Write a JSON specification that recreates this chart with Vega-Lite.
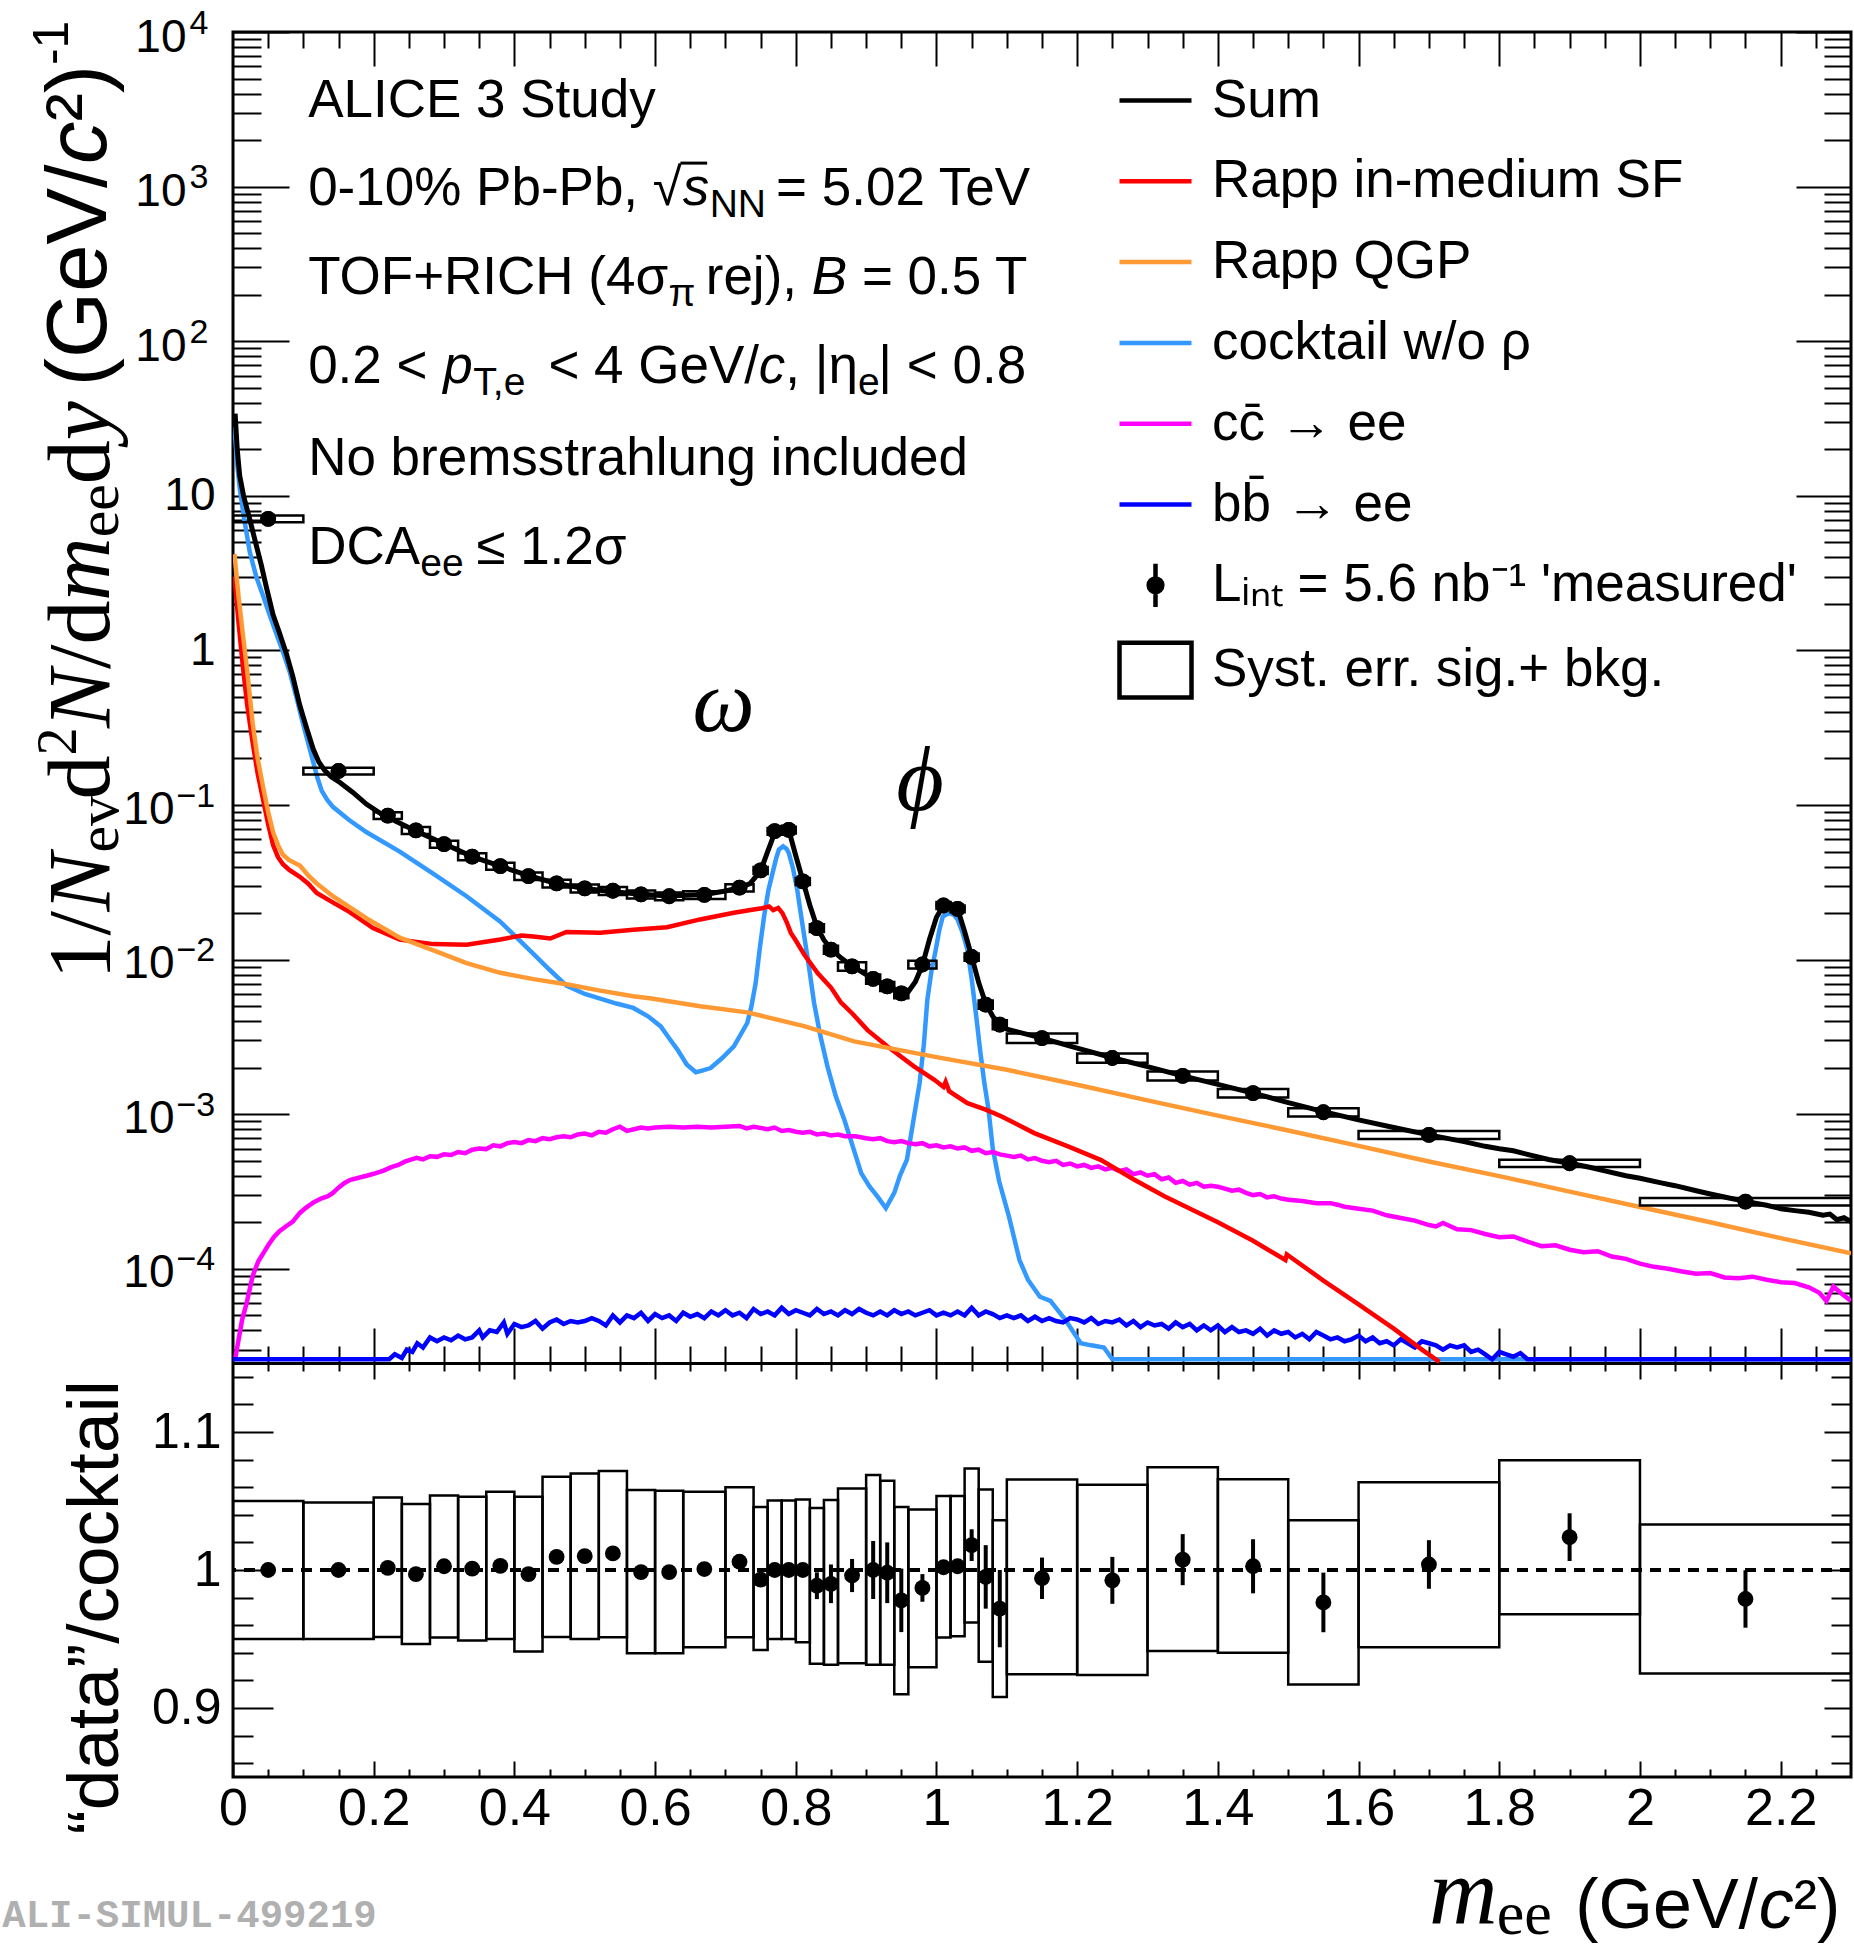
{
"$schema":"https://vega.github.io/schema/vega-lite/v6.json",
"autosize":{"type":"none"},
"padding":{"left":233,"top":32,"right":3,"bottom":169},
"background":"white",
"width":1618,"height":1745,
"config":{"view":{"stroke":"black","strokeWidth":3},"axis":{"grid":false,"domain":false,"tickColor":"black","tickWidth":2,"labelColor":"black","labelFont":"Liberation Sans","title":null}},
"datasets":{
"one":[{}],
"leg":[{"entry":"Sum"},{"entry":"Rapp in-medium SF"},{"entry":"Rapp QGP"},{"entry":"cocktail w/o ρ"},{"entry":"cc̄ → ee"},{"entry":"bb̄ → ee"},{"entry":"Lᵢₙₜ = 5.6 nb⁻¹ 'measured'"},{"entry":"Syst. err. sig.+ bkg."}],
"meas":[
{"x":0.05,"x0":0,"x1":0.1,"y":7.1,"ylo":6.745,"yhi":7.455,"r":1.0,"rlo":0.997,"rhi":1.003,"blo":0.95,"bhi":1.05},
{"x":0.15,"x0":0.1,"x1":0.2,"y":0.166,"ylo":0.1577,"yhi":0.1741,"r":1.0,"rlo":0.997,"rhi":1.003,"blo":0.95,"bhi":1.049},
{"x":0.22,"x0":0.2,"x1":0.24,"y":0.0855,"ylo":0.08123,"yhi":0.08986,"r":1.0015,"rlo":0.9985,"rhi":1.0045,"blo":0.9515,"bhi":1.0526},
{"x":0.26,"x0":0.24,"x1":0.28,"y":0.0685,"ylo":0.06503,"yhi":0.07199,"r":0.997,"rlo":0.994,"rhi":1.0,"blo":0.9464,"bhi":1.0478},
{"x":0.30,"x0":0.28,"x1":0.32,"y":0.0558,"ylo":0.05292,"yhi":0.05865,"r":1.0027,"rlo":0.9997,"rhi":1.0057,"blo":0.951,"bhi":1.054},
{"x":0.34,"x0":0.32,"x1":0.36,"y":0.0464,"ylo":0.04399,"yhi":0.04881,"r":1.001,"rlo":0.998,"rhi":1.004,"blo":0.949,"bhi":1.053},
{"x":0.38,"x0":0.36,"x1":0.40,"y":0.0402,"ylo":0.03808,"yhi":0.04235,"r":1.003,"rlo":1.0,"rhi":1.006,"blo":0.95,"bhi":1.0567},
{"x":0.42,"x0":0.40,"x1":0.44,"y":0.0347,"ylo":0.03275,"yhi":0.03665,"r":0.997,"rlo":0.994,"rhi":1.0,"blo":0.941,"bhi":1.053},
{"x":0.46,"x0":0.44,"x1":0.48,"y":0.0311,"ylo":0.02931,"yhi":0.03289,"r":1.0095,"rlo":1.0065,"rhi":1.0125,"blo":0.9515,"bhi":1.0676},
{"x":0.50,"x0":0.48,"x1":0.52,"y":0.0289,"ylo":0.02718,"yhi":0.03062,"r":1.01,"rlo":1.007,"rhi":1.013,"blo":0.95,"bhi":1.07},
{"x":0.54,"x0":0.52,"x1":0.56,"y":0.0279,"ylo":0.02623,"yhi":0.02955,"r":1.012,"rlo":1.009,"rhi":1.015,"blo":0.9513,"bhi":1.0718},
{"x":0.58,"x0":0.56,"x1":0.60,"y":0.0264,"ylo":0.02484,"yhi":0.02797,"r":0.9985,"rlo":0.9955,"rhi":1.0015,"blo":0.9396,"bhi":1.058},
{"x":0.62,"x0":0.60,"x1":0.64,"y":0.0257,"ylo":0.02418,"yhi":0.02722,"r":0.9985,"rlo":0.9955,"rhi":1.0015,"blo":0.9396,"bhi":1.0575},
{"x":0.67,"x0":0.64,"x1":0.70,"y":0.0262,"ylo":0.02471,"yhi":0.02767,"r":1.0007,"rlo":0.9977,"rhi":1.0037,"blo":0.944,"bhi":1.0567},
{"x":0.72,"x0":0.70,"x1":0.74,"y":0.0292,"ylo":0.02761,"yhi":0.03077,"r":1.006,"rlo":1.003,"rhi":1.009,"blo":0.9513,"bhi":1.06},
{"x":0.75,"x0":0.74,"x1":0.76,"y":0.0378,"ylo":0.03586,"yhi":0.0398,"r":0.993,"rlo":0.989,"rhi":0.997,"blo":0.942,"bhi":1.0456},
{"x":0.77,"x0":0.76,"x1":0.78,"y":0.0677,"ylo":0.06432,"yhi":0.07111,"r":1.0,"rlo":0.997,"rhi":1.003,"blo":0.95,"bhi":1.0504},
{"x":0.79,"x0":0.78,"x1":0.80,"y":0.069,"ylo":0.06555,"yhi":0.07248,"r":1.0,"rlo":0.997,"rhi":1.003,"blo":0.95,"bhi":1.0504},
{"x":0.81,"x0":0.80,"x1":0.82,"y":0.0321,"ylo":0.03042,"yhi":0.03374,"r":1.0,"rlo":0.996,"rhi":1.004,"blo":0.9476,"bhi":1.051},
{"x":0.83,"x0":0.82,"x1":0.84,"y":0.016,"ylo":0.01508,"yhi":0.01691,"r":0.9886,"rlo":0.9789,"rhi":0.9983,"blo":0.932,"bhi":1.045},
{"x":0.85,"x0":0.84,"x1":0.86,"y":0.0116,"ylo":0.01091,"yhi":0.01231,"r":0.99,"rlo":0.976,"rhi":1.004,"blo":0.9314,"bhi":1.0507},
{"x":0.88,"x0":0.86,"x1":0.90,"y":0.00905,"ylo":0.008472,"yhi":0.009622,"r":0.996,"rlo":0.984,"rhi":1.008,"blo":0.9324,"bhi":1.059},
{"x":0.91,"x0":0.90,"x1":0.92,"y":0.0075,"ylo":0.006986,"yhi":0.008016,"r":1.0,"rlo":0.979,"rhi":1.021,"blo":0.9314,"bhi":1.0688},
{"x":0.93,"x0":0.92,"x1":0.94,"y":0.00672,"ylo":0.006271,"yhi":0.007169,"r":0.998,"rlo":0.976,"rhi":1.02,"blo":0.9314,"bhi":1.0647},
{"x":0.95,"x0":0.94,"x1":0.96,"y":0.00605,"ylo":0.005629,"yhi":0.006468,"r":0.978,"rlo":0.955,"rhi":1.001,"blo":0.91,"bhi":1.0456},
{"x":0.98,"x0":0.96,"x1":1.00,"y":0.0093,"ylo":0.008758,"yhi":0.009836,"r":0.987,"rlo":0.977,"rhi":0.997,"blo":0.9295,"bhi":1.0439},
{"x":1.01,"x0":1.00,"x1":1.02,"y":0.0224,"ylo":0.02126,"yhi":0.02356,"r":1.002,"rlo":0.997,"rhi":1.007,"blo":0.951,"bhi":1.0536},
{"x":1.03,"x0":1.02,"x1":1.04,"y":0.0213,"ylo":0.02022,"yhi":0.02238,"r":1.0027,"rlo":0.9977,"rhi":1.0077,"blo":0.952,"bhi":1.0536},
{"x":1.05,"x0":1.04,"x1":1.06,"y":0.0104,"ylo":0.00983,"yhi":0.01097,"r":1.018,"rlo":1.0065,"rhi":1.0295,"blo":0.962,"bhi":1.0735},
{"x":1.07,"x0":1.06,"x1":1.08,"y":0.00512,"ylo":0.004804,"yhi":0.005446,"r":0.995,"rlo":0.972,"rhi":1.018,"blo":0.9336,"bhi":1.0584},
{"x":1.09,"x0":1.08,"x1":1.10,"y":0.0038,"ylo":0.00355,"yhi":0.00405,"r":0.972,"rlo":0.944,"rhi":1.0,"blo":0.908,"bhi":1.036},
{"x":1.15,"x0":1.1,"x1":1.2,"y":0.00311,"ylo":0.002892,"yhi":0.003334,"r":0.994,"rlo":0.979,"rhi":1.009,"blo":0.9244,"bhi":1.0655},
{"x":1.25,"x0":1.2,"x1":1.3,"y":0.00231,"ylo":0.00215,"yhi":0.002471,"r":0.9925,"rlo":0.9755,"rhi":1.0095,"blo":0.9239,"bhi":1.0618},
{"x":1.35,"x0":1.3,"x1":1.4,"y":0.00177,"ylo":0.001654,"yhi":0.001888,"r":1.0075,"rlo":0.989,"rhi":1.026,"blo":0.9413,"bhi":1.0744},
{"x":1.45,"x0":1.4,"x1":1.5,"y":0.00137,"ylo":0.001284,"yhi":0.001456,"r":1.0027,"rlo":0.9831,"rhi":1.0223,"blo":0.94,"bhi":1.0657},
{"x":1.55,"x0":1.5,"x1":1.6,"y":0.00103,"ylo":0.000967,"yhi":0.001093,"r":0.9765,"rlo":0.9549,"rhi":0.9981,"blo":0.917,"bhi":1.036},
{"x":1.70,"x0":1.6,"x1":1.8,"y":0.000736,"ylo":0.000692,"yhi":0.00078,"r":1.004,"rlo":0.9864,"rhi":1.0216,"blo":0.944,"bhi":1.0635},
{"x":1.90,"x0":1.8,"x1":2.0,"y":0.000482,"ylo":0.000456,"yhi":0.000508,"r":1.0238,"rlo":1.0065,"rhi":1.0411,"blo":0.968,"bhi":1.0795},
{"x":2.15,"x0":2.0,"x1":2.3,"y":0.000272,"ylo":0.000257,"yhi":0.000287,"r":0.979,"rlo":0.9582,"rhi":0.9998,"blo":0.925,"bhi":1.033}
],
"sum":[{"x":0.003,"y":34},{"x":0.006,"y":20},{"x":0.0095,"y":13.5},{"x":0.015,"y":10},{"x":0.024,"y":7.0},{"x":0.032,"y":5.0},{"x":0.04,"y":3.6},{"x":0.048,"y":2.5},{"x":0.057,"y":1.7},{"x":0.066,"y":1.3},{"x":0.076,"y":0.95},{"x":0.085,"y":0.68},{"x":0.095,"y":0.44},{"x":0.105,"y":0.31},{"x":0.114,"y":0.23},{"x":0.122,"y":0.19},{"x":0.13,"y":0.168},{"x":0.14,"y":0.152},{"x":0.152,"y":0.14},{"x":0.17,"y":0.121},{"x":0.19,"y":0.101},{"x":0.21,"y":0.088},{"x":0.23,"y":0.079},{"x":0.26,"y":0.068},{"x":0.30,"y":0.0561},{"x":0.34,"y":0.0464},{"x":0.38,"y":0.0402},{"x":0.42,"y":0.0349},{"x":0.46,"y":0.0311},{"x":0.50,"y":0.0288},{"x":0.54,"y":0.0275},{"x":0.58,"y":0.0265},{"x":0.62,"y":0.0258},{"x":0.67,"y":0.0264},{"x":0.70,"y":0.0278},{"x":0.72,"y":0.0292},{"x":0.735,"y":0.031},{"x":0.75,"y":0.0375},{"x":0.76,"y":0.05},{"x":0.77,"y":0.066},{"x":0.78,"y":0.072},{"x":0.79,"y":0.069},{"x":0.80,"y":0.047},{"x":0.81,"y":0.0325},{"x":0.82,"y":0.0225},{"x":0.83,"y":0.0163},{"x":0.84,"y":0.0134},{"x":0.85,"y":0.0117},{"x":0.865,"y":0.0102},{"x":0.88,"y":0.0091},{"x":0.90,"y":0.008},{"x":0.91,"y":0.0075},{"x":0.93,"y":0.0067},{"x":0.95,"y":0.0061},{"x":0.96,"y":0.0062},{"x":0.97,"y":0.0072},{"x":0.98,"y":0.0092},{"x":0.99,"y":0.0135},{"x":1.00,"y":0.0188},{"x":1.01,"y":0.0224},{"x":1.02,"y":0.0229},{"x":1.03,"y":0.0213},{"x":1.04,"y":0.0152},{"x":1.05,"y":0.0105},{"x":1.06,"y":0.0071},{"x":1.07,"y":0.0052},{"x":1.08,"y":0.0043},{"x":1.09,"y":0.0038},{"x":1.10,"y":0.00355},{"x":1.15,"y":0.00311},{"x":1.20,"y":0.00268},{"x":1.25,"y":0.00232},{"x":1.30,"y":0.00203},{"x":1.35,"y":0.00177},{"x":1.40,"y":0.00156},{"x":1.45,"y":0.00137},{"x":1.50,"y":0.00119},{"x":1.55,"y":0.00104},{"x":1.60,"y":0.00092},{"x":1.65,"y":0.00082},{"x":1.70,"y":0.000735},{"x":1.75,"y":0.000665},{"x":1.78,"y":0.00062},{"x":1.80,"y":0.000598},{"x":1.82,"y":0.00058},{"x":1.84,"y":0.00055},{"x":1.87,"y":0.00051},{"x":1.90,"y":0.000482},{"x":1.93,"y":0.000452},{"x":1.95,"y":0.00043},{"x":1.98,"y":0.0004},{"x":2.00,"y":0.000385},{"x":2.03,"y":0.00036},{"x":2.05,"y":0.000345},{"x":2.08,"y":0.00032},{"x":2.10,"y":0.000305},{"x":2.13,"y":0.000285},{"x":2.15,"y":0.000273},{"x":2.18,"y":0.000258},{"x":2.20,"y":0.000245},{"x":2.22,"y":0.000238},{"x":2.24,"y":0.000232},{"x":2.26,"y":0.000222},{"x":2.27,"y":0.000226},{"x":2.28,"y":0.000208},{"x":2.29,"y":0.000214},{"x":2.30,"y":0.000202}],
"sf":[{"x":0.002,"y":3.0},{"x":0.008,"y":1.5},{"x":0.014,"y":0.79},{"x":0.02,"y":0.45},{"x":0.028,"y":0.252},{"x":0.035,"y":0.16},{"x":0.043,"y":0.107},{"x":0.05,"y":0.075},{"x":0.057,"y":0.055},{"x":0.064,"y":0.046},{"x":0.071,"y":0.0414},{"x":0.08,"y":0.038},{"x":0.095,"y":0.0343},{"x":0.107,"y":0.031},{"x":0.119,"y":0.027},{"x":0.14,"y":0.0237},{"x":0.166,"y":0.0203},{"x":0.199,"y":0.016},{"x":0.237,"y":0.01346},{"x":0.285,"y":0.0126},{"x":0.332,"y":0.0125},{"x":0.38,"y":0.0135},{"x":0.41,"y":0.0143},{"x":0.427,"y":0.0141},{"x":0.451,"y":0.0137},{"x":0.474,"y":0.0151},{"x":0.522,"y":0.0149},{"x":0.569,"y":0.0156},{"x":0.617,"y":0.0162},{"x":0.664,"y":0.0182},{"x":0.712,"y":0.0201},{"x":0.74,"y":0.0211},{"x":0.752,"y":0.0215},{"x":0.762,"y":0.0221},{"x":0.768,"y":0.0209},{"x":0.775,"y":0.0216},{"x":0.781,"y":0.02},{"x":0.787,"y":0.0175},{"x":0.793,"y":0.0149},{"x":0.80,"y":0.0133},{"x":0.812,"y":0.0108},{"x":0.831,"y":0.0082},{"x":0.85,"y":0.0066},{"x":0.864,"y":0.0053},{"x":0.88,"y":0.0045},{"x":0.902,"y":0.0035},{"x":0.93,"y":0.00275},{"x":0.968,"y":0.00204},{"x":0.997,"y":0.00167},{"x":1.01,"y":0.0015},{"x":1.013,"y":0.00162},{"x":1.018,"y":0.00141},{"x":1.044,"y":0.00118},{"x":1.07,"y":0.00107},{"x":1.092,"y":0.00097},{"x":1.139,"y":0.000755},{"x":1.187,"y":0.00062},{"x":1.234,"y":0.000505},{"x":1.28,"y":0.00038},{"x":1.324,"y":0.000295},{"x":1.40,"y":0.0002},{"x":1.45,"y":0.000152},{"x":1.496,"y":0.000114},{"x":1.498,"y":0.000124},{"x":1.55,"y":0.000084},{"x":1.60,"y":0.000059},{"x":1.65,"y":0.000041},{"x":1.69,"y":0.00003},{"x":1.715,"y":0.000025}],
"qgp":[{"x":0.002,"y":4.2},{"x":0.008,"y":2.2},{"x":0.014,"y":1.27},{"x":0.02,"y":0.75},{"x":0.028,"y":0.335},{"x":0.035,"y":0.2},{"x":0.043,"y":0.129},{"x":0.05,"y":0.09},{"x":0.057,"y":0.0666},{"x":0.064,"y":0.055},{"x":0.071,"y":0.0477},{"x":0.08,"y":0.044},{"x":0.095,"y":0.0406},{"x":0.107,"y":0.035},{"x":0.119,"y":0.0311},{"x":0.142,"y":0.0257},{"x":0.19,"y":0.01845},{"x":0.237,"y":0.01387},{"x":0.285,"y":0.01147},{"x":0.332,"y":0.0095},{"x":0.38,"y":0.00822},{"x":0.427,"y":0.00748},{"x":0.474,"y":0.00693},{"x":0.522,"y":0.0063},{"x":0.569,"y":0.0058},{"x":0.595,"y":0.0056},{"x":0.664,"y":0.005},{"x":0.731,"y":0.00456},{"x":0.813,"y":0.0037},{"x":0.883,"y":0.00296},{"x":1.0,"y":0.00234},{"x":1.1,"y":0.00194},{"x":1.2,"y":0.00155},{"x":1.3,"y":0.00123},{"x":1.4,"y":0.00098},{"x":1.5,"y":0.000785},{"x":1.6,"y":0.000624},{"x":1.7,"y":0.000495},{"x":1.8,"y":0.000398},{"x":1.9,"y":0.000316},{"x":2.0,"y":0.000251},{"x":2.1,"y":0.0002},{"x":2.2,"y":0.000158},{"x":2.3,"y":0.000126}],
"cock":[{"x":0.002,"y":28},{"x":0.006,"y":16},{"x":0.0095,"y":11.3},{"x":0.015,"y":7.5},{"x":0.0237,"y":4.36},{"x":0.033,"y":3.0},{"x":0.043,"y":2.24},{"x":0.052,"y":1.7},{"x":0.062,"y":1.27},{"x":0.071,"y":0.98},{"x":0.081,"y":0.716},{"x":0.09,"y":0.5},{"x":0.0996,"y":0.335},{"x":0.107,"y":0.25},{"x":0.114,"y":0.19},{"x":0.12,"y":0.15},{"x":0.126,"y":0.124},{"x":0.134,"y":0.108},{"x":0.142,"y":0.0973},{"x":0.165,"y":0.08},{"x":0.19,"y":0.0666},{"x":0.237,"y":0.05},{"x":0.285,"y":0.0359},{"x":0.332,"y":0.0257},{"x":0.38,"y":0.0176},{"x":0.427,"y":0.0109},{"x":0.45,"y":0.0086},{"x":0.474,"y":0.0068},{"x":0.50,"y":0.006},{"x":0.522,"y":0.0056},{"x":0.545,"y":0.0052},{"x":0.569,"y":0.00487},{"x":0.59,"y":0.0043},{"x":0.608,"y":0.0037},{"x":0.62,"y":0.0031},{"x":0.632,"y":0.00261},{"x":0.645,"y":0.0021},{"x":0.658,"y":0.00187},{"x":0.668,"y":0.00192},{"x":0.679,"y":0.00199},{"x":0.695,"y":0.0023},{"x":0.712,"y":0.00275},{"x":0.731,"y":0.00389},{"x":0.737,"y":0.005},{"x":0.743,"y":0.00706},{"x":0.749,"y":0.012},{"x":0.755,"y":0.0191},{"x":0.761,"y":0.028},{"x":0.767,"y":0.0364},{"x":0.772,"y":0.045},{"x":0.776,"y":0.0515},{"x":0.782,"y":0.054},{"x":0.787,"y":0.052},{"x":0.79,"y":0.049},{"x":0.796,"y":0.039},{"x":0.802,"y":0.0284},{"x":0.807,"y":0.02},{"x":0.812,"y":0.0142},{"x":0.819,"y":0.0088},{"x":0.826,"y":0.00525},{"x":0.835,"y":0.0032},{"x":0.845,"y":0.00204},{"x":0.857,"y":0.0013},{"x":0.869,"y":0.00092},{"x":0.881,"y":0.00062},{"x":0.893,"y":0.000416},{"x":0.905,"y":0.00034},{"x":0.916,"y":0.000294},{"x":0.928,"y":0.000247},{"x":0.94,"y":0.00031},{"x":0.948,"y":0.0004},{"x":0.958,"y":0.000508},{"x":0.967,"y":0.0009},{"x":0.976,"y":0.00159},{"x":0.982,"y":0.0028},{"x":0.987,"y":0.0055},{"x":0.993,"y":0.0085},{"x":0.999,"y":0.0116},{"x":1.004,"y":0.0155},{"x":1.009,"y":0.019},{"x":1.018,"y":0.02},{"x":1.025,"y":0.0195},{"x":1.03,"y":0.0182},{"x":1.037,"y":0.015},{"x":1.044,"y":0.0116},{"x":1.05,"y":0.0075},{"x":1.056,"y":0.0045},{"x":1.062,"y":0.0026},{"x":1.068,"y":0.0016},{"x":1.074,"y":0.00107},{"x":1.08,"y":0.0006},{"x":1.089,"y":0.00037},{"x":1.103,"y":0.000218},{"x":1.118,"y":0.000114},{"x":1.13,"y":0.000085},{"x":1.147,"y":0.000066},{"x":1.162,"y":0.000062},{"x":1.183,"y":0.000047},{"x":1.205,"y":0.000033},{"x":1.22,"y":0.000032},{"x":1.238,"y":0.000031},{"x":1.25,"y":0.000026},{"x":2.3,"y":0.000026}],
"cc":[{"x":0.003,"y":0.000026},{"x":0.008,"y":0.000035},{"x":0.013,"y":0.000047},{"x":0.019,"y":0.000059},{"x":0.028,"y":0.00009},{"x":0.036,"y":0.000112},{"x":0.043,"y":0.000126},{"x":0.05,"y":0.000142},{"x":0.058,"y":0.00016},{"x":0.066,"y":0.000175},{"x":0.075,"y":0.000188},{"x":0.085,"y":0.000202},{"x":0.095,"y":0.00023},{"x":0.104,"y":0.000249},{"x":0.115,"y":0.00027},{"x":0.125,"y":0.000285},{"x":0.135,"y":0.000295},{"x":0.142,"y":0.00031},{"x":0.15,"y":0.000335},{"x":0.158,"y":0.000358},{"x":0.166,"y":0.000375},{"x":0.18,"y":0.00039},{"x":0.19,"y":0.0004},{"x":0.2,"y":0.000412},{"x":0.214,"y":0.000432},{"x":0.225,"y":0.000455},{"x":0.235,"y":0.00047},{"x":0.245,"y":0.000495},{"x":0.261,"y":0.000523},{"x":0.27,"y":0.00051},{"x":0.28,"y":0.000535},{"x":0.29,"y":0.00053},{"x":0.3,"y":0.00055},{"x":0.31,"y":0.000545},{"x":0.32,"y":0.00057},{"x":0.33,"y":0.00056},{"x":0.34,"y":0.00059},{"x":0.35,"y":0.0006},{"x":0.36,"y":0.000595},{"x":0.37,"y":0.00063},{"x":0.38,"y":0.00062},{"x":0.39,"y":0.00065},{"x":0.40,"y":0.00066},{"x":0.41,"y":0.00065},{"x":0.42,"y":0.00068},{"x":0.43,"y":0.00067},{"x":0.44,"y":0.0007},{"x":0.45,"y":0.00069},{"x":0.46,"y":0.00071},{"x":0.47,"y":0.00072},{"x":0.48,"y":0.00071},{"x":0.49,"y":0.00074},{"x":0.50,"y":0.00075},{"x":0.51,"y":0.00073},{"x":0.52,"y":0.00077},{"x":0.53,"y":0.00076},{"x":0.54,"y":0.0008},{"x":0.55,"y":0.00083},{"x":0.56,"y":0.00078},{"x":0.57,"y":0.0008},{"x":0.58,"y":0.00082},{"x":0.59,"y":0.00081},{"x":0.60,"y":0.00082},{"x":0.62,"y":0.00083},{"x":0.64,"y":0.00082},{"x":0.66,"y":0.00083},{"x":0.68,"y":0.00082},{"x":0.70,"y":0.00083},{"x":0.72,"y":0.00084},{"x":0.73,"y":0.00081},{"x":0.74,"y":0.00083},{"x":0.76,"y":0.0008},{"x":0.77,"y":0.00082},{"x":0.78,"y":0.00078},{"x":0.79,"y":0.00079},{"x":0.80,"y":0.00077},{"x":0.81,"y":0.00076},{"x":0.82,"y":0.00077},{"x":0.83,"y":0.00074},{"x":0.84,"y":0.00075},{"x":0.85,"y":0.00073},{"x":0.86,"y":0.00074},{"x":0.87,"y":0.00072},{"x":0.885,"y":0.00072},{"x":0.9,"y":0.0007},{"x":0.91,"y":0.00069},{"x":0.92,"y":0.0007},{"x":0.93,"y":0.00067},{"x":0.94,"y":0.00066},{"x":0.95,"y":0.00067},{"x":0.96,"y":0.00065},{"x":0.97,"y":0.00064},{"x":0.98,"y":0.00065},{"x":0.99,"y":0.00062},{"x":1.0,"y":0.00063},{"x":1.01,"y":0.00061},{"x":1.02,"y":0.00062},{"x":1.03,"y":0.0006},{"x":1.04,"y":0.00061},{"x":1.05,"y":0.00058},{"x":1.06,"y":0.00059},{"x":1.07,"y":0.00056},{"x":1.08,"y":0.00057},{"x":1.09,"y":0.00055},{"x":1.1,"y":0.00054},{"x":1.11,"y":0.00053},{"x":1.12,"y":0.00054},{"x":1.13,"y":0.00051},{"x":1.14,"y":0.00052},{"x":1.15,"y":0.0005},{"x":1.16,"y":0.00049},{"x":1.17,"y":0.0005},{"x":1.18,"y":0.00047},{"x":1.19,"y":0.00048},{"x":1.2,"y":0.00046},{"x":1.21,"y":0.00047},{"x":1.22,"y":0.00045},{"x":1.23,"y":0.00046},{"x":1.24,"y":0.00044},{"x":1.25,"y":0.00045},{"x":1.26,"y":0.00043},{"x":1.27,"y":0.00044},{"x":1.28,"y":0.00041},{"x":1.29,"y":0.00042},{"x":1.30,"y":0.0004},{"x":1.31,"y":0.00041},{"x":1.32,"y":0.00038},{"x":1.33,"y":0.00039},{"x":1.34,"y":0.00036},{"x":1.35,"y":0.00037},{"x":1.36,"y":0.00035},{"x":1.37,"y":0.00036},{"x":1.38,"y":0.00034},{"x":1.39,"y":0.000345},{"x":1.40,"y":0.00034},{"x":1.42,"y":0.00032},{"x":1.43,"y":0.000325},{"x":1.44,"y":0.00031},{"x":1.45,"y":0.0003},{"x":1.46,"y":0.000305},{"x":1.47,"y":0.00029},{"x":1.48,"y":0.000295},{"x":1.49,"y":0.000285},{"x":1.50,"y":0.00028},{"x":1.52,"y":0.000275},{"x":1.54,"y":0.000266},{"x":1.56,"y":0.000266},{"x":1.57,"y":0.00026},{"x":1.58,"y":0.000252},{"x":1.60,"y":0.000245},{"x":1.62,"y":0.000238},{"x":1.64,"y":0.000222},{"x":1.66,"y":0.000213},{"x":1.68,"y":0.000205},{"x":1.70,"y":0.000192},{"x":1.71,"y":0.000188},{"x":1.72,"y":0.000198},{"x":1.74,"y":0.00018},{"x":1.76,"y":0.000178},{"x":1.78,"y":0.000168},{"x":1.80,"y":0.00016},{"x":1.82,"y":0.000162},{"x":1.84,"y":0.00015},{"x":1.86,"y":0.00014},{"x":1.88,"y":0.000142},{"x":1.90,"y":0.000133},{"x":1.92,"y":0.000128},{"x":1.94,"y":0.00013},{"x":1.96,"y":0.00012},{"x":1.98,"y":0.000116},{"x":2.0,"y":0.000108},{"x":2.02,"y":0.000103},{"x":2.04,"y":0.0001},{"x":2.06,"y":0.000096},{"x":2.08,"y":0.000093},{"x":2.10,"y":0.000094},{"x":2.12,"y":0.000088},{"x":2.14,"y":0.000087},{"x":2.16,"y":0.000089},{"x":2.18,"y":0.000085},{"x":2.20,"y":0.000082},{"x":2.22,"y":0.000081},{"x":2.24,"y":0.000076},{"x":2.255,"y":0.00007},{"x":2.265,"y":0.000062},{"x":2.275,"y":0.000077},{"x":2.285,"y":0.00007},{"x":2.30,"y":0.000062}],
"bb":[{"x":0,"y":0.000026},{"x":0.222,"y":0.000026},{"x":0.23,"y":0.000028},{"x":0.24,"y":0.0000265},{"x":0.247,"y":0.00003},{"x":0.255,"y":0.000029},{"x":0.262,"y":0.000033},{"x":0.27,"y":0.000031},{"x":0.28,"y":0.000036},{"x":0.29,"y":0.000034},{"x":0.30,"y":0.000036},{"x":0.31,"y":0.0000345},{"x":0.32,"y":0.000037},{"x":0.33,"y":0.000035},{"x":0.34,"y":0.000036},{"x":0.35,"y":0.00004},{"x":0.355,"y":0.000036},{"x":0.365,"y":0.00004},{"x":0.375,"y":0.000039},{"x":0.385,"y":0.000045},{"x":0.39,"y":0.000038},{"x":0.40,"y":0.000044},{"x":0.41,"y":0.000042},{"x":0.42,"y":0.000043},{"x":0.43,"y":0.000046},{"x":0.44,"y":0.000041},{"x":0.45,"y":0.000045},{"x":0.46,"y":0.000047},{"x":0.47,"y":0.000044},{"x":0.48,"y":0.000046},{"x":0.49,"y":0.000045},{"x":0.50,"y":0.000046},{"x":0.51,"y":0.000048},{"x":0.52,"y":0.000046},{"x":0.53,"y":0.000043},{"x":0.54,"y":0.00005},{"x":0.55,"y":0.000045},{"x":0.56,"y":0.00005},{"x":0.57,"y":0.000048},{"x":0.58,"y":0.000052},{"x":0.59,"y":0.000046},{"x":0.60,"y":0.000051},{"x":0.61,"y":0.000048},{"x":0.62,"y":0.00005},{"x":0.63,"y":0.000046},{"x":0.64,"y":0.000052},{"x":0.65,"y":0.000049},{"x":0.66,"y":0.000051},{"x":0.67,"y":0.000048},{"x":0.68,"y":0.000053},{"x":0.69,"y":0.00005},{"x":0.70,"y":0.000054},{"x":0.71,"y":0.00005},{"x":0.72,"y":0.000052},{"x":0.73,"y":0.000048},{"x":0.74,"y":0.000055},{"x":0.75,"y":0.000051},{"x":0.76,"y":0.000053},{"x":0.77,"y":0.00005},{"x":0.78,"y":0.000056},{"x":0.79,"y":0.000051},{"x":0.80,"y":0.000054},{"x":0.81,"y":0.000052},{"x":0.82,"y":0.00005},{"x":0.83,"y":0.000055},{"x":0.84,"y":0.000051},{"x":0.85,"y":0.000053},{"x":0.86,"y":0.00005},{"x":0.87,"y":0.000054},{"x":0.88,"y":0.000051},{"x":0.89,"y":0.000055},{"x":0.90,"y":0.000052},{"x":0.91,"y":0.00005},{"x":0.92,"y":0.000053},{"x":0.93,"y":0.00005},{"x":0.94,"y":0.000054},{"x":0.95,"y":0.000051},{"x":0.96,"y":0.000053},{"x":0.97,"y":0.00005},{"x":0.98,"y":0.000052},{"x":0.99,"y":0.000054},{"x":1.00,"y":0.00005},{"x":1.01,"y":0.000052},{"x":1.02,"y":0.00005},{"x":1.03,"y":0.000053},{"x":1.04,"y":0.00005},{"x":1.05,"y":0.000056},{"x":1.06,"y":0.00005},{"x":1.07,"y":0.000053},{"x":1.08,"y":0.000051},{"x":1.09,"y":0.000048},{"x":1.10,"y":0.00005},{"x":1.11,"y":0.000048},{"x":1.12,"y":0.00005},{"x":1.13,"y":0.000046},{"x":1.14,"y":0.000049},{"x":1.15,"y":0.000046},{"x":1.16,"y":0.000048},{"x":1.17,"y":0.000046},{"x":1.18,"y":0.000045},{"x":1.19,"y":0.000048},{"x":1.20,"y":0.000047},{"x":1.21,"y":0.000045},{"x":1.22,"y":0.000048},{"x":1.23,"y":0.000044},{"x":1.24,"y":0.000046},{"x":1.25,"y":0.000045},{"x":1.26,"y":0.000047},{"x":1.27,"y":0.000043},{"x":1.28,"y":0.000046},{"x":1.29,"y":0.000042},{"x":1.30,"y":0.000045},{"x":1.31,"y":0.000043},{"x":1.32,"y":0.000044},{"x":1.33,"y":0.000041},{"x":1.34,"y":0.000045},{"x":1.35,"y":0.000042},{"x":1.36,"y":0.000044},{"x":1.37,"y":0.00004},{"x":1.38,"y":0.000043},{"x":1.39,"y":0.00004},{"x":1.40,"y":0.000043},{"x":1.41,"y":0.000039},{"x":1.42,"y":0.000042},{"x":1.43,"y":0.000039},{"x":1.44,"y":0.00004},{"x":1.45,"y":0.000038},{"x":1.46,"y":0.000041},{"x":1.47,"y":0.000037},{"x":1.48,"y":0.00004},{"x":1.49,"y":0.000038},{"x":1.50,"y":0.000039},{"x":1.51,"y":0.000036},{"x":1.52,"y":0.000038},{"x":1.53,"y":0.000035},{"x":1.54,"y":0.000039},{"x":1.55,"y":0.000037},{"x":1.56,"y":0.000035},{"x":1.57,"y":0.000036},{"x":1.58,"y":0.000034},{"x":1.59,"y":0.000035},{"x":1.60,"y":0.000037},{"x":1.61,"y":0.000034},{"x":1.62,"y":0.000036},{"x":1.63,"y":0.000033},{"x":1.64,"y":0.000034},{"x":1.65,"y":0.000032},{"x":1.66,"y":0.000035},{"x":1.67,"y":0.000033},{"x":1.68,"y":0.000031},{"x":1.69,"y":0.000034},{"x":1.70,"y":0.000033},{"x":1.71,"y":0.000032},{"x":1.72,"y":0.00003},{"x":1.73,"y":0.000032},{"x":1.74,"y":0.000031},{"x":1.75,"y":0.000032},{"x":1.76,"y":0.000029},{"x":1.77,"y":0.00003},{"x":1.78,"y":0.000028},{"x":1.79,"y":0.000026},{"x":1.80,"y":0.000029},{"x":1.81,"y":0.000028},{"x":1.82,"y":0.000027},{"x":1.83,"y":0.0000285},{"x":1.84,"y":0.000026},{"x":1.85,"y":0.000026},{"x":2.30,"y":0.000026}]
},
"resolve":{"scale":{"y":"independent"},"axis":{"x":"independent","y":"independent"}},
"layer":[
{"data":{"name":"cock"},"mark":{"type":"line","color":"#3399ff","strokeWidth":4.5,"clip":true},
 "encoding":{"x":{"field":"x","type":"quantitative","scale":{"domain":[0,2.3],"nice":false,"zero":false},"axis":{"orient":"bottom","offset":-414,"values":[0.2,0.4,0.6,0.8,1,1.2,1.4,1.6,1.8,2,2.2],"tickSize":-35,"labels":false,"domain":true,"domainColor":"black","domainWidth":3}},
  "y":{"field":"y","type":"quantitative","scale":{"type":"log","domain":[0.0000246,10000],"range":[1331,0],"nice":false},"axis":{"orient":"left","values":[0.0001,0.001,0.01,0.1,1,10,100,1000,10000],"tickSize":-56,"labels":false}}}},
{"data":{"name":"cc"},"mark":{"type":"line","color":"#ff00ff","strokeWidth":4.5,"clip":true},
 "encoding":{"x":{"field":"x","type":"quantitative","axis":{"orient":"bottom","offset":-414,"values":[0.05,0.1,0.15,0.25,0.3,0.35,0.45,0.5,0.55,0.65,0.7,0.75,0.85,0.9,0.95,1.05,1.1,1.15,1.25,1.3,1.35,1.45,1.5,1.55,1.65,1.7,1.75,1.85,1.9,1.95,2.05,2.1,2.15,2.25],"tickSize":-17,"labels":false}},
  "y":{"field":"y","type":"quantitative","scale":{"type":"log","domain":[0.0000246,10000],"range":[1331,0],"nice":false},"axis":{"orient":"left","values":[0.00003,0.00004,0.00005,0.00006,0.00007,0.00008,0.00009,0.0002,0.0003,0.0004,0.0005,0.0006,0.0007,0.0008,0.0009,0.002,0.003,0.004,0.005,0.006,0.007,0.008,0.009,0.02,0.03,0.04,0.05,0.06,0.07,0.08,0.09,0.2,0.3,0.4,0.5,0.6,0.7,0.8,0.9,2,3,4,5,6,7,8,9,20,30,40,50,60,70,80,90,200,300,400,500,600,700,800,900,2000,3000,4000,5000,6000,7000,8000,9000],"tickSize":-28,"labels":false}}}},
{"data":{"name":"bb"},"mark":{"type":"line","color":"#0000ff","strokeWidth":4.5,"clip":true},
 "encoding":{"x":{"field":"x","type":"quantitative","axis":{"orient":"top","values":[0.2,0.4,0.6,0.8,1,1.2,1.4,1.6,1.8,2,2.2],"tickSize":-34,"labels":false}},
  "y":{"field":"y","type":"quantitative","scale":{"type":"log","domain":[0.0000246,10000],"range":[1331,0],"nice":false},"axis":{"orient":"right","values":[0.0001,0.001,0.01,0.1,1,10,100,1000,10000],"tickSize":-55,"labels":false}}}},
{"data":{"name":"sf"},"mark":{"type":"line","color":"#ff0000","strokeWidth":4.5,"clip":true},
 "encoding":{"x":{"field":"x","type":"quantitative","axis":{"orient":"top","values":[0.05,0.1,0.15,0.25,0.3,0.35,0.45,0.5,0.55,0.65,0.7,0.75,0.85,0.9,0.95,1.05,1.1,1.15,1.25,1.3,1.35,1.45,1.5,1.55,1.65,1.7,1.75,1.85,1.9,1.95,2.05,2.1,2.15,2.25],"tickSize":-16,"labels":false}},
  "y":{"field":"y","type":"quantitative","scale":{"type":"log","domain":[0.0000246,10000],"range":[1331,0],"nice":false},"axis":{"orient":"right","values":[0.00003,0.00004,0.00005,0.00006,0.00007,0.00008,0.00009,0.0002,0.0003,0.0004,0.0005,0.0006,0.0007,0.0008,0.0009,0.002,0.003,0.004,0.005,0.006,0.007,0.008,0.009,0.02,0.03,0.04,0.05,0.06,0.07,0.08,0.09,0.2,0.3,0.4,0.5,0.6,0.7,0.8,0.9,2,3,4,5,6,7,8,9,20,30,40,50,60,70,80,90,200,300,400,500,600,700,800,900,2000,3000,4000,5000,6000,7000,8000,9000],"tickSize":-27,"labels":false}}}},
{"data":{"name":"qgp"},"mark":{"type":"line","color":"#ff9933","strokeWidth":4.5,"clip":true},
 "encoding":{"x":{"field":"x","type":"quantitative","axis":{"orient":"top","offset":-1331,"values":[0.05,0.1,0.15,0.25,0.3,0.35,0.45,0.5,0.55,0.65,0.7,0.75,0.85,0.9,0.95,1.05,1.1,1.15,1.25,1.3,1.35,1.45,1.5,1.55,1.65,1.7,1.75,1.85,1.9,1.95,2.05,2.1,2.15,2.25],"tickSize":-8,"labels":false}},
  "y":{"field":"y","type":"quantitative","scale":{"type":"log","domain":[0.0000246,10000],"range":[1331,0],"nice":false},"axis":{"orient":"left","values":[1,10],"ticks":false,"labelFontSize":46,"labelPadding":18,"labelAlign":"right","labelBaseline":"middle","labelFlush":false,"labelOverlap":false,"labelExpr":"datum.value > 5 ? '10' : '1'"}}}},
{"data":{"name":"sum"},"mark":{"type":"line","color":"#000000","strokeWidth":5,"clip":true},
 "encoding":{"x":{"field":"x","type":"quantitative","axis":null},
  "y":{"field":"y","type":"quantitative","scale":{"type":"log","domain":[0.0000246,10000],"range":[1331,0],"nice":false},"axis":{"orient":"left","values":[100,1000,10000],"ticks":false,"labelFontSize":46,"labelPadding":47,"labelOffset":5,"labelAlign":"right","labelBaseline":"middle","labelFlush":false,"labelOverlap":false,"labelExpr":"'10'"}}}},
{"data":{"name":"meas"},"mark":{"type":"rect","fill":"transparent","stroke":"black","strokeWidth":2.5,"clip":true},
 "encoding":{"x":{"field":"x0","type":"quantitative","axis":null},"x2":{"field":"x1"},
  "y":{"field":"ylo","type":"quantitative","scale":{"type":"log","domain":[0.0000246,10000],"range":[1331,0],"nice":false},"axis":{"orient":"left","values":[0.1,0.01,0.001,0.0001],"ticks":false,"labelFontSize":46,"labelPadding":59,"labelOffset":4,"labelAlign":"right","labelBaseline":"middle","labelFlush":false,"labelOverlap":false,"labelExpr":"'10'"}},"y2":{"field":"yhi"}}},
{"data":{"name":"meas"},"mark":{"type":"point","filled":true,"color":"black","size":250,"opacity":1,"clip":true},
 "encoding":{"x":{"field":"x","type":"quantitative","axis":null},
  "y":{"field":"y","type":"quantitative","scale":{"type":"log","domain":[0.0000246,10000],"range":[1331,0],"nice":false},"axis":{"orient":"left","values":[100,1000,10000],"ticks":false,"labelFontSize":34,"labelPadding":44,"labelOffset":-9,"labelAlign":"left","labelBaseline":"middle","labelFlush":false,"labelOverlap":false,"labelExpr":"datum.value > 5000 ? '4' : datum.value > 500 ? '3' : '2'"}}}},
{"data":{"name":"meas"},"mark":{"type":"point","filled":true,"color":"black","size":250,"opacity":1,"clip":true},
 "encoding":{"x":{"field":"x","type":"quantitative","axis":null},
  "y":{"field":"y","type":"quantitative","scale":{"type":"log","domain":[0.0000246,10000],"range":[1331,0],"nice":false},"axis":{"orient":"left","values":[0.1,0.01,0.001,0.0001],"ticks":false,"labelFontSize":34,"labelPadding":57,"labelOffset":-9,"labelAlign":"left","labelBaseline":"middle","labelFlush":false,"labelOverlap":false,"labelExpr":"datum.value > 0.05 ? '−1' : datum.value > 0.005 ? '−2' : datum.value > 0.0005 ? '−3' : '−4'"}}}},
{"data":{"name":"leg"},"mark":{"type":"point","clip":true,"opacity":1},
 "encoding":{"x":{"datum":-1,"type":"quantitative","axis":null},"y":{"datum":1,"type":"quantitative","scale":{"type":"log","domain":[0.0000246,10000],"range":[1331,0],"nice":false},"axis":null},
  "shape":{"field":"entry","type":"nominal","scale":{"domain":["Sum","Rapp in-medium SF","Rapp QGP","cocktail w/o ρ","cc̄ → ee","bb̄ → ee","Lᵢₙₜ = 5.6 nb⁻¹ 'measured'","Syst. err. sig.+ bkg."],"range":["M-1,0H1","M-1,0H1","M-1,0H1","M-1,0H1","M-1,0H1","M-1,0H1","M0,-0.6V0.6M-0.19,0A0.19,0.19,0,1,0,0.19,0A0.19,0.19,0,1,0,-0.19,0Z","M-1,-0.76H1V0.76H-1Z"]},
   "legend":{"orient":"none","legendX":884,"legendY":30,"title":null,"direction":"vertical","labelFont":"Liberation Sans","labelFontSize":53,"labelColor":"black","labelLimit":1500,"symbolSize":5184,"symbolStrokeWidth":4.5,"labelOffset":18,"rowPadding":14.8,"padding":0,"offset":0}},
  "fill":{"field":"entry","type":"nominal","scale":{"domain":["Sum","Rapp in-medium SF","Rapp QGP","cocktail w/o ρ","cc̄ → ee","bb̄ → ee","Lᵢₙₜ = 5.6 nb⁻¹ 'measured'","Syst. err. sig.+ bkg."],"range":["transparent","transparent","transparent","transparent","transparent","transparent","black","transparent"]},
   "legend":{"orient":"none","legendX":884,"legendY":30,"title":null,"direction":"vertical","labelFont":"Liberation Sans","labelFontSize":53,"labelColor":"black","labelLimit":1500,"symbolSize":5184,"symbolStrokeWidth":4.5,"labelOffset":18,"rowPadding":14.8,"padding":0,"offset":0}},
  "stroke":{"field":"entry","type":"nominal","scale":{"domain":["Sum","Rapp in-medium SF","Rapp QGP","cocktail w/o ρ","cc̄ → ee","bb̄ → ee","Lᵢₙₜ = 5.6 nb⁻¹ 'measured'","Syst. err. sig.+ bkg."],"range":["#000000","#ff0000","#ff9933","#3399ff","#ff00ff","#0000ff","#000000","#000000"]},
   "legend":{"orient":"none","legendX":884,"legendY":30,"title":null,"direction":"vertical","labelFont":"Liberation Sans","labelFontSize":53,"labelColor":"black","labelLimit":1500,"symbolSize":5184,"symbolStrokeWidth":4.5,"labelOffset":18,"rowPadding":14.8,"padding":0,"offset":0}}}},
{"data":{"name":"meas"},"mark":{"type":"rect","fill":"transparent","stroke":"black","strokeWidth":2.5,"clip":true},
 "encoding":{"x":{"field":"x0","type":"quantitative","axis":{"orient":"bottom","values":[0,0.2,0.4,0.6,0.8,1,1.2,1.4,1.6,1.8,2,2.2],"tickSize":-16,"labels":true,"labelFontSize":52,"labelPadding":22,"labelFlush":false,"labelOverlap":false,"labelExpr":"format(datum.value, '~g')"}},"x2":{"field":"x1"},
  "y":{"field":"blo","type":"quantitative","scale":{"domain":[0.85,1.15],"range":[1745,1331],"nice":false,"zero":false},"axis":{"orient":"left","values":[0.9,1,1.1],"tickSize":-40,"labels":true,"labelFontSize":50,"labelPadding":52,"labelFlush":false,"labelOverlap":false,"labelExpr":"format(datum.value, '~g')"}},"y2":{"field":"bhi"}}},
{"data":{"name":"one"},"mark":{"type":"rule","color":"black","strokeWidth":4,"strokeDash":[11,8]},
 "encoding":{"y":{"datum":1,"type":"quantitative","scale":{"domain":[0.85,1.15],"range":[1745,1331],"nice":false,"zero":false},"axis":{"orient":"left","values":[0.86,0.88,0.92,0.94,0.96,0.98,1.02,1.04,1.06,1.08,1.12,1.14],"tickSize":-20,"labels":false}}}},
{"data":{"name":"meas"},"mark":{"type":"rule","color":"black","strokeWidth":4,"clip":true},
 "encoding":{"x":{"field":"x","type":"quantitative","axis":{"orient":"top","offset":-1331,"values":[0.2,0.4,0.6,0.8,1,1.2,1.4,1.6,1.8,2,2.2],"tickSize":-16,"labels":false}},
  "y":{"field":"rlo","type":"quantitative","scale":{"domain":[0.85,1.15],"range":[1745,1331],"nice":false,"zero":false},"axis":{"orient":"right","values":[0.86,0.88,0.92,0.94,0.96,0.98,1.02,1.04,1.06,1.08,1.12,1.14],"tickSize":-20,"labels":false}},"y2":{"field":"rhi"}}},
{"data":{"name":"meas"},"mark":{"type":"point","filled":true,"color":"black","size":250,"opacity":1,"clip":true},
 "encoding":{"x":{"field":"x","type":"quantitative","axis":{"orient":"bottom","values":[0.05,0.1,0.15,0.25,0.3,0.35,0.45,0.5,0.55,0.65,0.7,0.75,0.85,0.9,0.95,1.05,1.1,1.15,1.25,1.3,1.35,1.45,1.5,1.55,1.65,1.7,1.75,1.85,1.9,1.95,2.05,2.1,2.15,2.25],"tickSize":-8,"labels":false}},
  "y":{"field":"r","type":"quantitative","scale":{"domain":[0.85,1.15],"range":[1745,1331],"nice":false,"zero":false},"axis":{"orient":"right","values":[0.9,1,1.1],"tickSize":-27,"labels":false}}}},
{"data":{"name":"one"},"mark":{"type":"text","text":"ALICE 3 Study","align":"left","baseline":"alphabetic","font":"Liberation Sans","fontSize":53,"color":"black"},"encoding":{"x":{"datum":0.1068,"type":"quantitative","axis":null},"y":{"datum":2805,"type":"quantitative","scale":{"type":"log","domain":[0.0000246,10000],"range":[1331,0],"nice":false},"axis":null}}},
{"data":{"name":"one"},"mark":{"type":"text","text":"0-10% Pb-Pb, √","align":"left","baseline":"alphabetic","font":"Liberation Sans","fontSize":53,"color":"black"},"encoding":{"x":{"datum":0.1068,"type":"quantitative","axis":null},"y":{"datum":759,"type":"quantitative","scale":{"type":"log","domain":[0.0000246,10000],"range":[1331,0],"nice":false},"axis":null}}},
{"data":{"name":"one"},"mark":{"type":"text","text":"s","align":"left","baseline":"alphabetic","font":"Liberation Sans","fontStyle":"italic","fontSize":53,"color":"black"},"encoding":{"x":{"datum":0.6392,"type":"quantitative","axis":null},"y":{"datum":759,"type":"quantitative","scale":{"type":"log","domain":[0.0000246,10000],"range":[1331,0],"nice":false},"axis":null}}},
{"data":{"name":"one"},"mark":{"type":"text","text":"NN","align":"left","baseline":"alphabetic","font":"Liberation Sans","fontSize":39,"color":"black"},"encoding":{"x":{"datum":0.6776,"type":"quantitative","axis":null},"y":{"datum":635,"type":"quantitative","scale":{"type":"log","domain":[0.0000246,10000],"range":[1331,0],"nice":false},"axis":null}}},
{"data":{"name":"one"},"mark":{"type":"text","text":"= 5.02 TeV","align":"left","baseline":"alphabetic","font":"Liberation Sans","fontSize":53,"color":"black"},"encoding":{"x":{"datum":0.772,"type":"quantitative","axis":null},"y":{"datum":759,"type":"quantitative","scale":{"type":"log","domain":[0.0000246,10000],"range":[1331,0],"nice":false},"axis":null}}},
{"data":{"name":"one"},"mark":{"type":"rule","color":"black","strokeWidth":3},"encoding":{"x":{"datum":0.636,"type":"quantitative","axis":null},"x2":{"datum":0.674},"y":{"datum":1419,"type":"quantitative","scale":{"type":"log","domain":[0.0000246,10000],"range":[1331,0],"nice":false},"axis":null}}},
{"data":{"name":"one"},"mark":{"type":"text","text":"TOF+RICH (4σ","align":"left","baseline":"alphabetic","font":"Liberation Sans","fontSize":53,"color":"black"},"encoding":{"x":{"datum":0.1068,"type":"quantitative","axis":null},"y":{"datum":202.7,"type":"quantitative","scale":{"type":"log","domain":[0.0000246,10000],"range":[1331,0],"nice":false},"axis":null}}},
{"data":{"name":"one"},"mark":{"type":"text","text":"π","align":"left","baseline":"alphabetic","font":"Liberation Sans","fontSize":39,"color":"black"},"encoding":{"x":{"datum":0.6192,"type":"quantitative","axis":null},"y":{"datum":169.5,"type":"quantitative","scale":{"type":"log","domain":[0.0000246,10000],"range":[1331,0],"nice":false},"axis":null}}},
{"data":{"name":"one"},"mark":{"type":"text","text":"rej),","align":"left","baseline":"alphabetic","font":"Liberation Sans","fontSize":53,"color":"black"},"encoding":{"x":{"datum":0.672,"type":"quantitative","axis":null},"y":{"datum":202.7,"type":"quantitative","scale":{"type":"log","domain":[0.0000246,10000],"range":[1331,0],"nice":false},"axis":null}}},
{"data":{"name":"one"},"mark":{"type":"text","text":"B","align":"left","baseline":"alphabetic","font":"Liberation Sans","fontStyle":"italic","fontSize":53,"color":"black"},"encoding":{"x":{"datum":0.8228,"type":"quantitative","axis":null},"y":{"datum":202.7,"type":"quantitative","scale":{"type":"log","domain":[0.0000246,10000],"range":[1331,0],"nice":false},"axis":null}}},
{"data":{"name":"one"},"mark":{"type":"text","text":"= 0.5 T","align":"left","baseline":"alphabetic","font":"Liberation Sans","fontSize":53,"color":"black"},"encoding":{"x":{"datum":0.894,"type":"quantitative","axis":null},"y":{"datum":202.7,"type":"quantitative","scale":{"type":"log","domain":[0.0000246,10000],"range":[1331,0],"nice":false},"axis":null}}},
{"data":{"name":"one"},"mark":{"type":"text","text":"0.2 <","align":"left","baseline":"alphabetic","font":"Liberation Sans","fontSize":53,"color":"black"},"encoding":{"x":{"datum":0.1068,"type":"quantitative","axis":null},"y":{"datum":53.5,"type":"quantitative","scale":{"type":"log","domain":[0.0000246,10000],"range":[1331,0],"nice":false},"axis":null}}},
{"data":{"name":"one"},"mark":{"type":"text","text":"p","align":"left","baseline":"alphabetic","font":"Liberation Sans","fontStyle":"italic","fontSize":53,"color":"black"},"encoding":{"x":{"datum":0.2989,"type":"quantitative","axis":null},"y":{"datum":53.5,"type":"quantitative","scale":{"type":"log","domain":[0.0000246,10000],"range":[1331,0],"nice":false},"axis":null}}},
{"data":{"name":"one"},"mark":{"type":"text","text":"T,e","align":"left","baseline":"alphabetic","font":"Liberation Sans","fontSize":39,"color":"black"},"encoding":{"x":{"datum":0.3416,"type":"quantitative","axis":null},"y":{"datum":44.7,"type":"quantitative","scale":{"type":"log","domain":[0.0000246,10000],"range":[1331,0],"nice":false},"axis":null}}},
{"data":{"name":"one"},"mark":{"type":"text","text":"< 4 GeV/","align":"left","baseline":"alphabetic","font":"Liberation Sans","fontSize":53,"color":"black"},"encoding":{"x":{"datum":0.4484,"type":"quantitative","axis":null},"y":{"datum":53.5,"type":"quantitative","scale":{"type":"log","domain":[0.0000246,10000],"range":[1331,0],"nice":false},"axis":null}}},
{"data":{"name":"one"},"mark":{"type":"text","text":"c","align":"left","baseline":"alphabetic","font":"Liberation Sans","fontStyle":"italic","fontSize":53,"color":"black"},"encoding":{"x":{"datum":0.7473,"type":"quantitative","axis":null},"y":{"datum":53.5,"type":"quantitative","scale":{"type":"log","domain":[0.0000246,10000],"range":[1331,0],"nice":false},"axis":null}}},
{"data":{"name":"one"},"mark":{"type":"text","text":", |η","align":"left","baseline":"alphabetic","font":"Liberation Sans","fontSize":53,"color":"black"},"encoding":{"x":{"datum":0.7851,"type":"quantitative","axis":null},"y":{"datum":53.5,"type":"quantitative","scale":{"type":"log","domain":[0.0000246,10000],"range":[1331,0],"nice":false},"axis":null}}},
{"data":{"name":"one"},"mark":{"type":"text","text":"e","align":"left","baseline":"alphabetic","font":"Liberation Sans","fontSize":39,"color":"black"},"encoding":{"x":{"datum":0.8883,"type":"quantitative","axis":null},"y":{"datum":44.7,"type":"quantitative","scale":{"type":"log","domain":[0.0000246,10000],"range":[1331,0],"nice":false},"axis":null}}},
{"data":{"name":"one"},"mark":{"type":"text","text":"| < 0.8","align":"left","baseline":"alphabetic","font":"Liberation Sans","fontSize":53,"color":"black"},"encoding":{"x":{"datum":0.9174,"type":"quantitative","axis":null},"y":{"datum":53.5,"type":"quantitative","scale":{"type":"log","domain":[0.0000246,10000],"range":[1331,0],"nice":false},"axis":null}}},
{"data":{"name":"one"},"mark":{"type":"text","text":"No bremsstrahlung included","align":"left","baseline":"alphabetic","font":"Liberation Sans","fontSize":53,"color":"black"},"encoding":{"x":{"datum":0.1068,"type":"quantitative","axis":null},"y":{"datum":13.7,"type":"quantitative","scale":{"type":"log","domain":[0.0000246,10000],"range":[1331,0],"nice":false},"axis":null}}},
{"data":{"name":"one"},"mark":{"type":"text","text":"DCA","align":"left","baseline":"alphabetic","font":"Liberation Sans","fontSize":53,"color":"black"},"encoding":{"x":{"datum":0.1068,"type":"quantitative","axis":null},"y":{"datum":3.62,"type":"quantitative","scale":{"type":"log","domain":[0.0000246,10000],"range":[1331,0],"nice":false},"axis":null}}},
{"data":{"name":"one"},"mark":{"type":"text","text":"ee","align":"left","baseline":"alphabetic","font":"Liberation Sans","fontSize":39,"color":"black"},"encoding":{"x":{"datum":0.2662,"type":"quantitative","axis":null},"y":{"datum":3.03,"type":"quantitative","scale":{"type":"log","domain":[0.0000246,10000],"range":[1331,0],"nice":false},"axis":null}}},
{"data":{"name":"one"},"mark":{"type":"text","text":"≤ 1.2σ","align":"left","baseline":"alphabetic","font":"Liberation Sans","fontSize":53,"color":"black"},"encoding":{"x":{"datum":0.3459,"type":"quantitative","axis":null},"y":{"datum":3.62,"type":"quantitative","scale":{"type":"log","domain":[0.0000246,10000],"range":[1331,0],"nice":false},"axis":null}}},
{"data":{"name":"one"},"mark":{"type":"text","text":"ω","align":"center","baseline":"alphabetic","font":"Liberation Serif","fontStyle":"italic","fontSize":88,"color":"black"},"encoding":{"x":{"datum":0.6975,"type":"quantitative","axis":null},"y":{"datum":0.30,"type":"quantitative","scale":{"type":"log","domain":[0.0000246,10000],"range":[1331,0],"nice":false},"axis":null}}},
{"data":{"name":"one"},"mark":{"type":"text","text":"ϕ","align":"center","baseline":"alphabetic","font":"Liberation Serif","fontStyle":"italic","fontSize":92,"color":"black"},"encoding":{"x":{"datum":0.9765,"type":"quantitative","axis":null},"y":{"datum":0.0935,"type":"quantitative","scale":{"type":"log","domain":[0.0000246,10000],"range":[1331,0],"nice":false},"axis":null}}},
{"data":{"name":"one"},"mark":{"type":"text","text":"1/","angle":270,"align":"left","baseline":"alphabetic","font":"Liberation Serif","fontSize":88,"color":"black"},"encoding":{"x":{"datum":-0.1765,"type":"quantitative","axis":null},"y":{"datum":0.007425,"type":"quantitative","scale":{"type":"log","domain":[0.0000246,10000],"range":[1331,0],"nice":false},"axis":null}}},
{"data":{"name":"one"},"mark":{"type":"text","text":"N","angle":270,"align":"left","baseline":"alphabetic","font":"Liberation Serif","fontStyle":"italic","fontSize":88,"color":"black"},"encoding":{"x":{"datum":-0.1765,"type":"quantitative","axis":null},"y":{"datum":0.02045,"type":"quantitative","scale":{"type":"log","domain":[0.0000246,10000],"range":[1331,0],"nice":false},"axis":null}}},
{"data":{"name":"one"},"mark":{"type":"text","text":"ev","angle":270,"align":"left","baseline":"alphabetic","font":"Liberation Serif","fontSize":60,"color":"black"},"encoding":{"x":{"datum":-0.1637,"type":"quantitative","axis":null},"y":{"datum":0.04927,"type":"quantitative","scale":{"type":"log","domain":[0.0000246,10000],"range":[1331,0],"nice":false},"axis":null}}},
{"data":{"name":"one"},"mark":{"type":"text","text":"d","angle":270,"align":"left","baseline":"alphabetic","font":"Liberation Serif","fontSize":88,"color":"black"},"encoding":{"x":{"datum":-0.1765,"type":"quantitative","axis":null},"y":{"datum":0.10854,"type":"quantitative","scale":{"type":"log","domain":[0.0000246,10000],"range":[1331,0],"nice":false},"axis":null}}},
{"data":{"name":"one"},"mark":{"type":"text","text":"2","angle":270,"align":"left","baseline":"alphabetic","font":"Liberation Serif","fontSize":56,"color":"black"},"encoding":{"x":{"datum":-0.2235,"type":"quantitative","axis":null},"y":{"datum":0.20916,"type":"quantitative","scale":{"type":"log","domain":[0.0000246,10000],"range":[1331,0],"nice":false},"axis":null}}},
{"data":{"name":"one"},"mark":{"type":"text","text":"N","angle":270,"align":"left","baseline":"alphabetic","font":"Liberation Serif","fontStyle":"italic","fontSize":88,"color":"black"},"encoding":{"x":{"datum":-0.1765,"type":"quantitative","axis":null},"y":{"datum":0.31508,"type":"quantitative","scale":{"type":"log","domain":[0.0000246,10000],"range":[1331,0],"nice":false},"axis":null}}},
{"data":{"name":"one"},"mark":{"type":"text","text":"/d","angle":270,"align":"left","baseline":"alphabetic","font":"Liberation Serif","fontSize":88,"color":"black"},"encoding":{"x":{"datum":-0.1765,"type":"quantitative","axis":null},"y":{"datum":0.75918,"type":"quantitative","scale":{"type":"log","domain":[0.0000246,10000],"range":[1331,0],"nice":false},"axis":null}}},
{"data":{"name":"one"},"mark":{"type":"text","text":"m","angle":270,"align":"left","baseline":"alphabetic","font":"Liberation Serif","fontStyle":"italic","fontSize":88,"color":"black"},"encoding":{"x":{"datum":-0.1765,"type":"quantitative","axis":null},"y":{"datum":2.0909,"type":"quantitative","scale":{"type":"log","domain":[0.0000246,10000],"range":[1331,0],"nice":false},"axis":null}}},
{"data":{"name":"one"},"mark":{"type":"text","text":"ee","angle":270,"align":"left","baseline":"alphabetic","font":"Liberation Serif","fontSize":60,"color":"black"},"encoding":{"x":{"datum":-0.1637,"type":"quantitative","axis":null},"y":{"datum":5.388,"type":"quantitative","scale":{"type":"log","domain":[0.0000246,10000],"range":[1331,0],"nice":false},"axis":null}}},
{"data":{"name":"one"},"mark":{"type":"text","text":"d","angle":270,"align":"left","baseline":"alphabetic","font":"Liberation Serif","fontSize":88,"color":"black"},"encoding":{"x":{"datum":-0.1765,"type":"quantitative","axis":null},"y":{"datum":11.871,"type":"quantitative","scale":{"type":"log","domain":[0.0000246,10000],"range":[1331,0],"nice":false},"axis":null}}},
{"data":{"name":"one"},"mark":{"type":"text","text":"y","angle":270,"align":"left","baseline":"alphabetic","font":"Liberation Serif","fontStyle":"italic","fontSize":88,"color":"black"},"encoding":{"x":{"datum":-0.1765,"type":"quantitative","axis":null},"y":{"datum":22.87,"type":"quantitative","scale":{"type":"log","domain":[0.0000246,10000],"range":[1331,0],"nice":false},"axis":null}}},
{"data":{"name":"one"},"mark":{"type":"text","text":"(GeV/","angle":270,"align":"left","baseline":"alphabetic","font":"Liberation Sans","fontSize":85,"color":"black"},"encoding":{"x":{"datum":-0.1804,"type":"quantitative","axis":null},"y":{"datum":51.1,"type":"quantitative","scale":{"type":"log","domain":[0.0000246,10000],"range":[1331,0],"nice":false},"axis":null}}},
{"data":{"name":"one"},"mark":{"type":"text","text":"c","angle":270,"align":"left","baseline":"alphabetic","font":"Liberation Sans","fontStyle":"italic","fontSize":85,"color":"black"},"encoding":{"x":{"datum":-0.1804,"type":"quantitative","axis":null},"y":{"datum":1398,"type":"quantitative","scale":{"type":"log","domain":[0.0000246,10000],"range":[1331,0],"nice":false},"axis":null}}},
{"data":{"name":"one"},"mark":{"type":"text","text":"²)","angle":270,"align":"left","baseline":"alphabetic","font":"Liberation Sans","fontSize":85,"color":"black"},"encoding":{"x":{"datum":-0.1804,"type":"quantitative","axis":null},"y":{"datum":2634,"type":"quantitative","scale":{"type":"log","domain":[0.0000246,10000],"range":[1331,0],"nice":false},"axis":null}}},
{"data":{"name":"one"},"mark":{"type":"text","text":"-1","angle":270,"align":"left","baseline":"alphabetic","font":"Liberation Sans","fontSize":50,"color":"black"},"encoding":{"x":{"datum":-0.235,"type":"quantitative","axis":null},"y":{"datum":6113,"type":"quantitative","scale":{"type":"log","domain":[0.0000246,10000],"range":[1331,0],"nice":false},"axis":null}}},
{"data":{"name":"one"},"mark":{"type":"text","text":"m","align":"left","baseline":"alphabetic","font":"Liberation Serif","fontStyle":"italic","fontSize":95,"color":"black"},"encoding":{"x":{"datum":1.700,"type":"quantitative","axis":null},"y":{"datum":0.7435,"type":"quantitative","scale":{"domain":[0.85,1.15],"range":[1745,1331],"nice":false,"zero":false},"axis":null}}},
{"data":{"name":"one"},"mark":{"type":"text","text":"ee","align":"left","baseline":"alphabetic","font":"Liberation Serif","fontSize":62,"color":"black"},"encoding":{"x":{"datum":1.7964,"type":"quantitative","axis":null},"y":{"datum":0.7365,"type":"quantitative","scale":{"domain":[0.85,1.15],"range":[1745,1331],"nice":false,"zero":false},"axis":null}}},
{"data":{"name":"one"},"mark":{"type":"text","text":"(GeV/","align":"left","baseline":"alphabetic","font":"Liberation Sans","fontSize":70,"color":"black"},"encoding":{"x":{"datum":1.908,"type":"quantitative","axis":null},"y":{"datum":0.7405,"type":"quantitative","scale":{"domain":[0.85,1.15],"range":[1745,1331],"nice":false,"zero":false},"axis":null}}},
{"data":{"name":"one"},"mark":{"type":"text","text":"c","align":"left","baseline":"alphabetic","font":"Liberation Sans","fontStyle":"italic","fontSize":70,"color":"black"},"encoding":{"x":{"datum":2.1688,"type":"quantitative","axis":null},"y":{"datum":0.7405,"type":"quantitative","scale":{"domain":[0.85,1.15],"range":[1745,1331],"nice":false,"zero":false},"axis":null}}},
{"data":{"name":"one"},"mark":{"type":"text","text":"²)","align":"left","baseline":"alphabetic","font":"Liberation Sans","fontSize":70,"color":"black"},"encoding":{"x":{"datum":2.2186,"type":"quantitative","axis":null},"y":{"datum":0.7405,"type":"quantitative","scale":{"domain":[0.85,1.15],"range":[1745,1331],"nice":false,"zero":false},"axis":null}}},
{"data":{"name":"one"},"mark":{"type":"text","text":"“data”/cocktail","angle":270,"align":"center","baseline":"alphabetic","font":"Liberation Sans","fontSize":73,"color":"black"},"encoding":{"x":{"datum":-0.164,"type":"quantitative","axis":null},"y":{"datum":0.973,"type":"quantitative","scale":{"domain":[0.85,1.15],"range":[1745,1331],"nice":false,"zero":false},"axis":null}}},
{"data":{"name":"one"},"mark":{"type":"text","text":"ALI-SIMUL-499219","align":"left","baseline":"alphabetic","font":"Liberation Mono","fontWeight":"bold","fontSize":39,"color":"#b0b0b0"},"encoding":{"x":{"datum":-0.328,"type":"quantitative","axis":null},"y":{"datum":0.7415,"type":"quantitative","scale":{"domain":[0.85,1.15],"range":[1745,1331],"nice":false,"zero":false},"axis":null}}}
]
}
